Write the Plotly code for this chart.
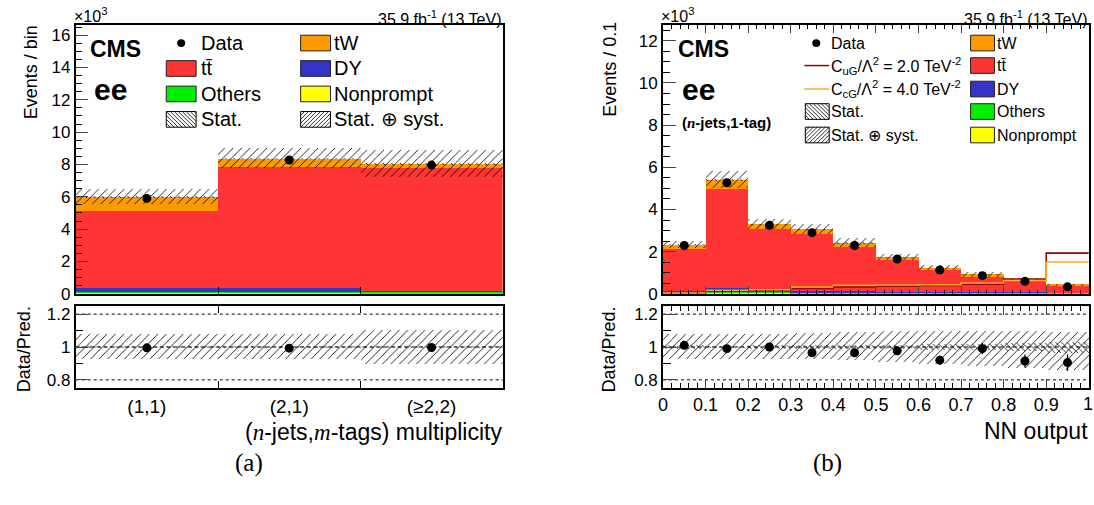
import numpy as np
import plotly.graph_objects as go

W, H = 1094, 505

# ---------------- (a) jet / b-tag multiplicity, ee channel (x 10^3 events) ----------------
cat_labels = ["(1,1)", "(2,1)", "(≥2,2)"]
nonprompt_a = [0.02, 0.02, 0.01]
others_a = [0.04, 0.06, 0.09]
dy_a = [0.26, 0.24, 0.03]
ttbar_a = [4.75, 7.47, 7.60]
tw_a = [0.90, 0.55, 0.27]
data_a = [5.90, 8.28, 7.96]
data_err_a = [0.08, 0.09, 0.09]
ratio_a = [0.995, 0.993, 0.997]
ratio_err_a = [0.013, 0.011, 0.011]
stat_rel_a = [0.008, 0.007, 0.007]
syst_lo_a = [0.928, 0.928, 0.898]
syst_hi_a = [1.081, 1.081, 1.107]

# ---------------- (b) NN output, (n-jets,1-tag) ----------------
nn_edges = [0.0, 0.1, 0.2, 0.3, 0.4, 0.5, 0.6, 0.7, 0.8, 0.9, 1.0]
nn_tick_text = ["0", "0.1", "0.2", "0.3", "0.4", "0.5", "0.6", "0.7", "0.8", "0.9", "1"]
nonprompt_b = [0.01, 0.02, 0.02, 0.01, 0.01, 0.01, 0.01, 0.01, 0.01, 0.01]
others_b = [0.02, 0.05, 0.05, 0.02, 0.02, 0.02, 0.02, 0.01, 0.01, 0.01]
dy_b = [0.08, 0.20, 0.06, 0.08, 0.07, 0.05, 0.04, 0.03, 0.02, 0.01]
ttbar_b = [1.99, 4.68, 2.90, 2.70, 2.08, 1.50, 1.04, 0.74, 0.58, 0.34]
tw_b = [0.20, 0.41, 0.25, 0.22, 0.21, 0.14, 0.11, 0.11, 0.05, 0.03]
data_b = [2.29, 5.27, 3.25, 2.90, 2.29, 1.65, 1.13, 0.86, 0.59, 0.33]
data_err_b = [0.05, 0.07, 0.06, 0.05, 0.05, 0.04, 0.03, 0.03, 0.025, 0.02]
ratio_b = [1.01, 0.99, 1.00, 0.965, 0.965, 0.977, 0.92, 0.99, 0.915, 0.905]
ratio_err_b = [0.02, 0.014, 0.018, 0.018, 0.02, 0.024, 0.029, 0.034, 0.04, 0.05]
stat_rel_b = [0.012, 0.008, 0.010, 0.010, 0.012, 0.014, 0.017, 0.020, 0.025, 0.033]
syst_lo_b = [0.93, 0.93, 0.93, 0.925, 0.92, 0.91, 0.90, 0.885, 0.875, 0.86]
syst_hi_b = [1.08, 1.08, 1.08, 1.085, 1.09, 1.095, 1.10, 1.10, 1.095, 1.09]
sig_cug_b = [0.03, 0.15, 0.17, 0.25, 0.33, 0.36, 0.39, 0.46, 0.70, 1.93]
sig_ccg_b = [0.03, 0.17, 0.19, 0.32, 0.40, 0.42, 0.43, 0.51, 0.63, 1.51]

# ---------------- style ----------------
FONT = "Liberation Sans"
SERIF = "Liberation Serif"
C_NONPROMPT = "#ffff00"
C_OTHERS = "#00ee00"
C_DY = "#3434c8"
C_TT = "#ff3434"
C_TW = "#ff9900"
C_CUG = "#990000"
C_CCG = "#ffaa22"

stack_order = [
    ("Nonprompt", C_NONPROMPT),
    ("Others", C_OTHERS),
    ("DY", C_DY),
    ("tt̄", C_TT),
    ("tW", C_TW),
]


def px(x):
    return x / W


def py(y):
    return 1 - y / H


fig = go.Figure()


def add_stack(xc, width, comps, xa, ya):
    base = np.zeros(len(xc))
    for vals, (name, col) in zip(comps, stack_order):
        vals = np.asarray(vals, float)
        fig.add_trace(go.Bar(x=xc, y=vals, base=base, width=width, marker=dict(color=col, line=dict(width=0)),
                             xaxis=xa, yaxis=ya, showlegend=False, name=name))
        base = base + vals
    return base


def add_hatch(xc, width, lo, hi, shape, xa, ya, size=6, solidity=0.14):
    lo = np.asarray(lo, float)
    hi = np.asarray(hi, float)
    fig.add_trace(go.Bar(
        x=xc, y=hi - lo, base=lo, width=width, xaxis=xa, yaxis=ya, showlegend=False,
        marker=dict(color="rgba(0,0,0,0)", line=dict(width=0),
                    pattern=dict(shape=shape, fgcolor="black", fgopacity=1, bgcolor="rgba(0,0,0,0)",
                                 size=size, solidity=solidity, fillmode="overlay")),
    ))


def add_points(xc, y, err, xa, ya):
    fig.add_trace(go.Scatter(x=xc, y=y, mode="markers", xaxis=xa, yaxis=ya, showlegend=False,
                             marker=dict(color="black", size=9),
                             error_y=dict(type="data", array=err, color="black", thickness=1.3, width=0)))


# ---- panel (a)
xa_c = np.arange(len(cat_labels)) + 0.5
total_a = add_stack(xa_c, 1.0, [nonprompt_a, others_a, dy_a, ttbar_a, tw_a], "x", "y")
add_hatch(xa_c, 1.0, total_a * (1 - np.asarray(stat_rel_a)), total_a * (1 + np.asarray(stat_rel_a)), "\\", "x", "y")
add_hatch(xa_c, 1.0, total_a * np.asarray(syst_lo_a), total_a * np.asarray(syst_hi_a), "/", "x", "y")
add_points(xa_c, data_a, data_err_a, "x", "y")

add_hatch(xa_c, 1.0, 1 - np.asarray(stat_rel_a), 1 + np.asarray(stat_rel_a), "\\", "x2", "y2", size=4, solidity=0.2)
add_hatch(xa_c, 1.0, syst_lo_a, syst_hi_a, "/", "x2", "y2")
add_points(xa_c, ratio_a, ratio_err_a, "x2", "y2")

# ---- panel (b)
edges = np.asarray(nn_edges)
xb_c = (edges[:-1] + edges[1:]) / 2
wb = np.diff(edges)
total_b = add_stack(xb_c, wb, [nonprompt_b, others_b, dy_b, ttbar_b, tw_b], "x3", "y3")
for sig, col in ((sig_cug_b, C_CUG), (sig_ccg_b, C_CCG)):
    fig.add_trace(go.Scatter(x=edges, y=list(sig) + [sig[-1]], mode="lines", line=dict(color=col, width=1.6, shape="hv"),
                             xaxis="x3", yaxis="y3", showlegend=False))
add_hatch(xb_c, wb, total_b * (1 - np.asarray(stat_rel_b)), total_b * (1 + np.asarray(stat_rel_b)), "\\", "x3", "y3")
add_hatch(xb_c, wb, total_b * np.asarray(syst_lo_b), total_b * np.asarray(syst_hi_b), "/", "x3", "y3")
add_points(xb_c, data_b, data_err_b, "x3", "y3")

add_hatch(xb_c, wb, 1 - np.asarray(stat_rel_b), 1 + np.asarray(stat_rel_b), "\\", "x4", "y4", size=4, solidity=0.2)
add_hatch(xb_c, wb, syst_lo_b, syst_hi_b, "/", "x4", "y4")
add_points(xb_c, ratio_b, ratio_err_b, "x4", "y4")

# ---------------- axes ----------------
L_DOM = [px(71), px(500)]
R_DOM = [px(661), px(1089)]
MAIN_DOM = [py(299.3), py(25)]
RAT_DOM = [py(395.7), py(311.7)]
NN_RANGE = [0, 1.0005]
frame = dict(showline=True, linecolor="black", linewidth=1.6, showgrid=False, zeroline=False)
tickf = dict(family=FONT, size=17, color="black")
xtickf = dict(family=FONT, size=18, color="black")

# the label at the right end of the NN axis sits on the page edge, so it is written as an annotation
nn_axis_text = nn_tick_text[:-1] + [""]

fig.update_layout(
    xaxis=dict(domain=L_DOM, anchor="y", range=[0, 3], tickvals=list(xa_c), showticklabels=False, ticks="",
               minor=dict(tickvals=[1, 2], ticks="inside", ticklen=7, tickcolor="black"), mirror=True, **frame),
    yaxis=dict(domain=MAIN_DOM, anchor="x", range=[0, 16.6], dtick=2, ticks="inside", ticklen=13,
               minor=dict(dtick=0.5, ticks="inside", ticklen=7, tickcolor="black"), tickfont=tickf, mirror=True, **frame),
    xaxis2=dict(domain=L_DOM, anchor="y2", range=[0, 3], tickvals=list(xa_c), ticktext=cat_labels, ticks="",
                tickfont=dict(family=FONT, size=19, color="black"),
                minor=dict(tickvals=[1, 2], ticks="inside", ticklen=7, tickcolor="black"),
                mirror="ticks", **frame),
    yaxis2=dict(domain=RAT_DOM, anchor="x2", range=[0.75, 1.25], tickvals=[0.8, 1.0, 1.2], ticktext=["0.8", "1", "1.2"],
                ticks="inside", ticklen=13, minor=dict(tickvals=[0.9, 1.1], ticks="inside", ticklen=8, tickcolor="black"),
                tickfont=tickf, mirror=True, **frame),
    xaxis3=dict(domain=R_DOM, anchor="y3", range=NN_RANGE, tickvals=nn_edges, showticklabels=False, ticks="inside", ticklen=8,
                minor=dict(dtick=0.02, ticks="inside", ticklen=4, tickcolor="black"), mirror="ticks", **frame),
    yaxis3=dict(domain=MAIN_DOM, anchor="x3", range=[0, 12.73], dtick=2, ticks="inside", ticklen=13,
                minor=dict(dtick=0.5, ticks="inside", ticklen=7, tickcolor="black"), tickfont=tickf, mirror=True, **frame),
    xaxis4=dict(domain=R_DOM, anchor="y4", range=NN_RANGE, tickvals=nn_edges, ticktext=nn_axis_text, ticks="inside",
                ticklen=9, tickfont=xtickf,
                minor=dict(dtick=0.02, ticks="inside", ticklen=5, tickcolor="black"), mirror="ticks", **frame),
    yaxis4=dict(domain=RAT_DOM, anchor="x4", range=[0.75, 1.25], tickvals=[0.8, 1.0, 1.2], ticktext=["0.8", "1", "1.2"],
                ticks="inside", ticklen=13, minor=dict(tickvals=[0.9, 1.1], ticks="inside", ticklen=8, tickcolor="black"),
                tickfont=tickf, mirror=True, **frame),
    barmode="overlay",
    bargap=0,
    width=W, height=H,
    margin=dict(l=0, r=0, t=0, b=0),
    paper_bgcolor="white", plot_bgcolor="white",
    font=dict(family=FONT, color="black"),
    showlegend=False,
)

shapes = []
annots = []

# reference lines in the ratio panels
for xr, yr in (("x2", "y2"), ("x4", "y4")):
    for yv, dash in ((0.8, "dot"), (1.2, "dot"), (1.0, "4px,3px")):
        shapes.append(dict(type="line", xref=f"{xr} domain", yref=yr, x0=0, x1=1, y0=yv, y1=yv,
                           line=dict(color="black", width=1, dash=dash), layer="below"))


def text(x, y, s, size=16, xanchor="left", yanchor="middle", family=FONT, angle=0):
    if xanchor == "left":
        x -= 4
    annots.append(dict(x=px(x), y=py(y), xref="paper", yref="paper", text=s, showarrow=False,
                       xanchor=xanchor, yanchor=yanchor, textangle=angle, borderpad=0,
                       font=dict(family=family, size=size, color="black")))


def box(x0, y0, w, h, fill):
    shapes.append(dict(type="rect", xref="paper", yref="paper", x0=px(x0), x1=px(x0 + w), y0=py(y0 + h), y1=py(y0),
                       fillcolor=fill, line=dict(color="#222222", width=1)))


def hatch_box(x0, y0, w, h, direction, step=4):
    pts = []
    for k in np.arange(-h, w + step, step):
        # one 45-degree hatch line, clipped to the box
        xa_, xb_ = k, k + h
        ya_, yb_ = 0.0, h
        if xa_ < 0:
            ya_ += -xa_
            xa_ = 0
        if xb_ > w:
            yb_ -= xb_ - w
            xb_ = w
        if xb_ <= xa_:
            continue
        if direction == "/":
            p0 = (x0 + xa_, y0 + h - ya_)
            p1 = (x0 + xb_, y0 + h - yb_)
        else:
            p0 = (x0 + xa_, y0 + ya_)
            p1 = (x0 + xb_, y0 + yb_)
        pts.append(f"M{px(p0[0]):.5f},{py(p0[1]):.5f} L{px(p1[0]):.5f},{py(p1[1]):.5f}")
    shapes.append(dict(type="path", xref="paper", yref="paper", path=" ".join(pts), line=dict(color="black", width=0.8)))
    shapes.append(dict(type="rect", xref="paper", yref="paper", x0=px(x0), x1=px(x0 + w), y0=py(y0 + h), y1=py(y0),
                       line=dict(color="black", width=1)))


def dot(x, y, r=4):
    shapes.append(dict(type="circle", xref="paper", yref="paper", x0=px(x - r), x1=px(x + r), y0=py(y + r), y1=py(y - r),
                       fillcolor="black", line=dict(color="black", width=0)))


def seg(x0, x1, y, col):
    shapes.append(dict(type="line", xref="paper", yref="paper", x0=px(x0), x1=px(x1), y0=py(y), y1=py(y),
                       line=dict(color=col, width=1.5)))


# ---- panel (a) legend and labels
rows_a = [43, 69, 95, 121]
LA = 20
dot(177, rows_a[0])
text(200, rows_a[0], "Data", LA)
box(162, rows_a[1] - 8, 30, 16, C_TT)
text(200, rows_a[1], "tt̄", LA)
box(162, rows_a[2] - 8, 30, 16, C_OTHERS)
text(200, rows_a[2], "Others", LA)
hatch_box(162, rows_a[3] - 8, 30, 16, "\\")
text(200, rows_a[3], "Stat.", LA)
box(297, rows_a[0] - 8, 30, 16, C_TW)
text(334, rows_a[0], "tW", LA)
box(297, rows_a[1] - 8, 30, 16, C_DY)
text(334, rows_a[1], "DY", LA)
box(297, rows_a[2] - 8, 30, 16, C_NONPROMPT)
text(334, rows_a[2], "Nonprompt", LA)
hatch_box(297, rows_a[3] - 8, 30, 16, "/")
text(334, rows_a[3], "Stat. ⊕ syst.", LA)

text(88, 49, "<b>CMS</b>", 23)
text(92, 90, "<b>ee</b>", 30)
text(500, 17, "35.9 fb<sup>-1</sup> (13 TeV)", 16, xanchor="right")
text(72, 14, "×10<sup>3</sup>", 16)
text(27, 73, "Events / bin", 18, xanchor="center", angle=-90)
text(19, 356, "Data/Pred.", 18, xanchor="center", angle=-90)
text(500, 441, f"(<span style='font-family:{SERIF}'><i>n</i></span>-jets,<span style='font-family:{SERIF}'><i>m</i></span>-tags) multiplicity",
     23, xanchor="right")
text(245, 472, "(a)", 25, xanchor="center", family=SERIF)

# ---- panel (b) legend and labels
rows_b = [43, 66, 90, 113, 137]
LB = 16
dot(815, rows_b[0])
text(833, rows_b[0], "Data", LB)
seg(803, 828, rows_b[1], C_CUG)
text(833, rows_b[1], "C<sub>uG</sub>/Λ<sup>2</sup> = 2.0 TeV<sup>-2</sup>", LB)
seg(803, 828, rows_b[2], C_CCG)
text(833, rows_b[2], "C<sub>cG</sub>/Λ<sup>2</sup> = 4.0 TeV<sup>-2</sup>", LB)
hatch_box(804, rows_b[3] - 8, 24, 16, "\\")
text(833, rows_b[3], "Stat.", LB)
hatch_box(804, rows_b[4] - 8, 24, 16, "/")
text(833, rows_b[4], "Stat. ⊕ syst.", LB)
for r, (lab, col) in zip(rows_b, [("tW", C_TW), ("tt̄", C_TT), ("DY", C_DY), ("Others", C_OTHERS), ("Nonprompt", C_NONPROMPT)]):
    box(970, r - 8, 24, 16, col)
    text(1000, r, lab, LB)

text(679, 49, "<b>CMS</b>", 23)
text(683, 90, "<b>ee</b>", 30)
text(683, 124, f"<b>(<span style='font-family:{SERIF}'><i>n</i></span>-jets,1-tag)</b>", 15)
text(1089, 17, "35.9 fb<sup>-1</sup> (13 TeV)", 16, xanchor="right")
text(662, 14, "×10<sup>3</sup>", 16)
text(608, 70, "Events / 0.1", 18, xanchor="center", angle=-90)
text(607, 356, "Data/Pred.", 18, xanchor="center", angle=-90)
text(1088, 401, nn_tick_text[-1], 18, xanchor="center", yanchor="top")
text(1089, 440, "NN output", 23, xanchor="right")
text(826, 472, "(b)", 25, xanchor="center", family=SERIF)

fig.update_layout(shapes=shapes, annotations=annots)
fig.write_html("out.html")
